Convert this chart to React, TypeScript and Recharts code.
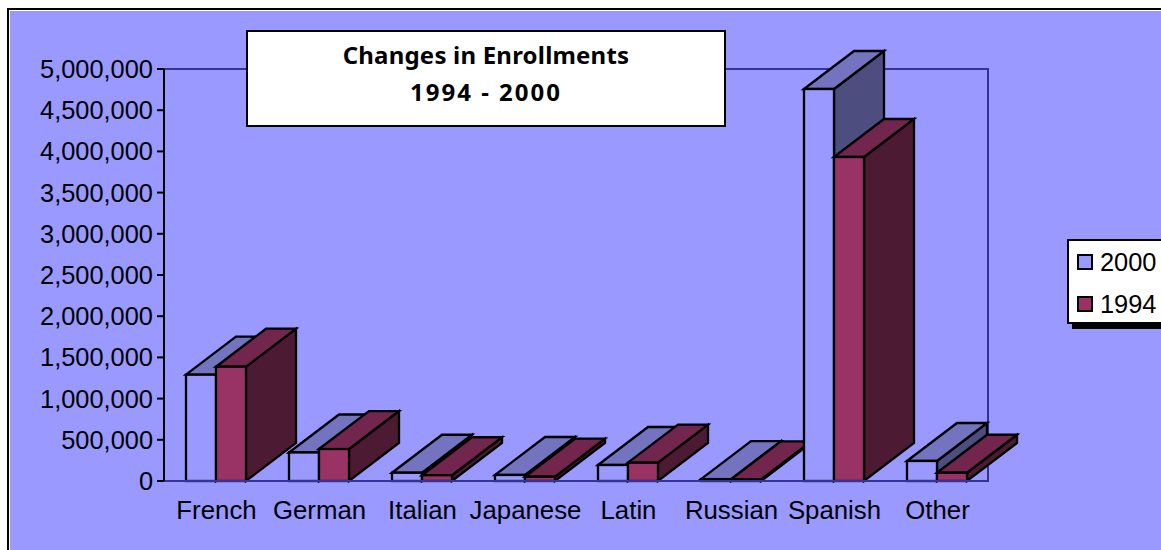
import { Bar, BarChart, Legend, ReferenceArea, XAxis, YAxis } from "recharts";

const categories = ["French", "German", "Italian", "Japanese", "Latin", "Russian", "Spanish", "Other"];
const values2000 = [1290000, 346000, 100000, 73000, 194000, 23000, 4757000, 243000];
const values1994 = [1387000, 388000, 70000, 52000, 222000, 20000, 3932000, 100000];
const yTicks = [0, 500000, 1000000, 1500000, 2000000, 2500000, 3000000, 3500000, 4000000, 4500000, 5000000];

const data = categories.map((name, i) => ({ name, y2000: values2000[i], y1994: values1994[i] }));

const SANS = '"Liberation Sans", Arial, sans-serif';
const DEPTH_X = 50;
const DEPTH_Y = 38;

// Spanish is so tall it has to sit on top of Russian's depth, so it gets its own pair of bars, drawn last
const isTall = (d: { name: string }) => d.name === "Spanish";
const rest2000 = (d: any) => (isTall(d) ? 0 : d.y2000);
const rest1994 = (d: any) => (isTall(d) ? 0 : d.y1994);
const tall2000 = (d: any) => (isTall(d) ? d.y2000 : 0);
const tall1994 = (d: any) => (isTall(d) ? d.y1994 : 0);

function box3d(front: string, top: string, side: string) {
  return (props: any) => {
    const { x, y, width, height } = props;
    if (!height || height <= 0) return <g />;
    const r = x + width;
    const b = y + height;
    return (
      <g stroke="#000" strokeWidth={2.3} strokeLinejoin="miter">
        <polygon points={`${r},${y} ${r + DEPTH_X},${y - DEPTH_Y} ${r + DEPTH_X},${b - DEPTH_Y} ${r},${b}`} fill={side} />
        <polygon points={`${x},${y} ${x + DEPTH_X},${y - DEPTH_Y} ${r + DEPTH_X},${y - DEPTH_Y} ${r},${y}`} fill={top} />
        <rect x={x} y={y} width={width} height={height} fill={front} />
      </g>
    );
  };
}

const shape2000 = box3d("#9999FF", "#7373BF", "#4D4D80");
const shape1994 = box3d("#993366", "#73264D", "#4D1A33");

function LegendBox({ payload }: any) {
  const items = (payload || []).filter((p: any) => p.type !== "none");
  return (
    <div
      style={{
        background: "#fff",
        border: "2px solid #000",
        borderRight: "none",
        boxShadow: "5px 5px 0 #000",
        width: 94,
        height: 85,
        boxSizing: "border-box",
        fontFamily: SANS,
        fontSize: 25.4,
        color: "#000",
      }}
    >
      {items.map((p: any) => (
        <div key={p.value} style={{ display: "flex", alignItems: "center", height: 42 }}>
          <span
            style={{
              display: "inline-block",
              boxSizing: "border-box",
              width: 16,
              height: 16,
              marginLeft: 8,
              marginRight: 7,
              border: "2px solid #000",
              background: p.color,
            }}
          />
          {p.value}
        </div>
      ))}
    </div>
  );
}

export default function App() {
  return (
    <div style={{ position: "absolute", left: 0, top: 0, width: 1161, height: 550, background: "#fff", overflow: "hidden" }}>
      <div
        style={{
          position: "absolute",
          left: 7,
          top: 8,
          width: 1154,
          height: 542,
          boxSizing: "border-box",
          background: "#9999FF",
          borderLeft: "2px solid #000",
          borderTop: "2px solid #000",
          boxShadow: "inset 1px 1px 0 #fff",
        }}
      />
      <div style={{ position: "absolute", left: 0, top: 0 }}>
        <BarChart
          width={1161}
          height={550}
          data={data}
          margin={{ top: 69, right: 79, bottom: 0, left: 0 }}
          barSize={30}
          barGap={0}
          style={{ overflow: "hidden" }}
        >
          <ReferenceArea y1={0} y2={5000000} fill="none" stroke="#333399" strokeWidth={2} fillOpacity={0} />
          <XAxis
            dataKey="name"
            height={69}
            interval={0}
            axisLine={{ stroke: "#333399", strokeWidth: 2 }}
            tickLine={false}
            tickMargin={14}
            tick={{ fontSize: 25.8, fontFamily: SANS, fill: "#000", dx: 1 }}
          />
          <YAxis
            width={164}
            domain={[0, 5000000]}
            ticks={yTicks}
            interval={0}
            tickFormatter={(v: number) => v.toLocaleString("en-US")}
            axisLine={{ stroke: "#000", strokeWidth: 2 }}
            tickLine={{ stroke: "#000", strokeWidth: 2 }}
            tickSize={7}
            tickMargin={4}
            tick={{ fontSize: 25.4, fontFamily: SANS, fill: "#000" }}
          />
          <Legend
            layout="vertical"
            align="right"
            verticalAlign="top"
            itemSorter={null}
            wrapperStyle={{ position: "absolute", left: 1067, top: 239, width: 94, right: "auto" }}
            content={<LegendBox />}
          />
          <Bar dataKey={rest2000} name="2000" stackId="a" fill="#9999FF" shape={shape2000} isAnimationActive={false} />
          <Bar dataKey={rest1994} name="1994" stackId="b" fill="#993366" shape={shape1994} isAnimationActive={false} />
          <Bar dataKey={tall2000} name="Spanish 2000" stackId="a" legendType="none" shape={shape2000} isAnimationActive={false} />
          <Bar dataKey={tall1994} name="Spanish 1994" stackId="b" legendType="none" shape={shape1994} isAnimationActive={false} />
        </BarChart>
      </div>
      <div
        style={{
          position: "absolute",
          left: 246,
          top: 30,
          width: 480,
          height: 97,
          boxSizing: "border-box",
          background: "#fff",
          border: "2px solid #000",
          fontFamily: '"Noto Sans", sans-serif',
          fontWeight: 700,
          fontSize: 24,
          lineHeight: "37px",
          textAlign: "center",
          color: "#000",
          paddingTop: 4,
        }}
      >
        <div style={{ letterSpacing: 0.2 }}>Changes in Enrollments</div>
        <div style={{ letterSpacing: 2 }}>1994 - 2000</div>
      </div>
    </div>
  );
}
